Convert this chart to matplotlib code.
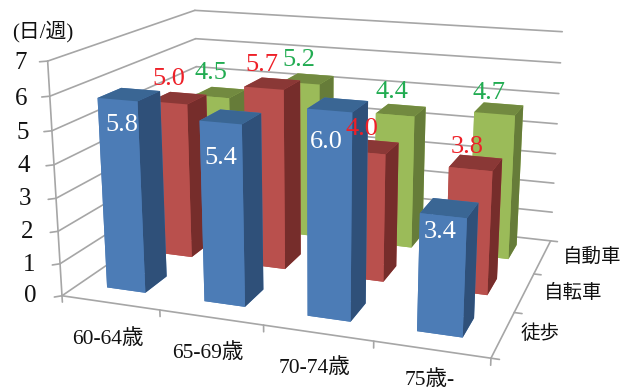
import numpy as np
import matplotlib
matplotlib.use("Agg")
import matplotlib.pyplot as plt

plt.rcParams['font.family'] = ['Liberation Serif', 'Noto Sans CJK JP', 'DejaVu Sans']

# Average days per week by age group and mode of travel
age_groups = ['60-64歳', '65-69歳', '70-74歳', '75歳-']
modes = ['徒歩', '自転車', '自動車']
walk = [5.8, 5.4, 6.0, 3.4]
bicycle = [5.0, 5.7, 4.0, 3.8]
car = [4.5, 5.2, 4.4, 4.7]
series = [walk, bicycle, car]
z_ticks = list(range(8))
unit_label = '(日/週)'

W, H = 633, 392
DPI = 100

# Front / top / side shades for each series
front_cols = ['#4C7CB6', '#B9504D', '#9BBB59']
top_cols = ['#3A6694', '#8A3836', '#728A40']
side_cols = ['#2F5079', '#762D2B', '#667C39']
label_cols = ['#FFFFFF', '#EE2028', '#22AC52']
GRID = '#A6A6A6'

# Camera and screen placement of the 3D box
ELEV, AZIM, ROLL, FOCAL = 15.843, -70.617, -0.063, 0.407
BOX = (1.821, 1.371, 1.0)
SCALE, CX, CY = 3001.33, 321.28, 158.88

# Bar footprint within each category cell
BAR_X, BAR_DX = 0.29, 0.40
BAR_Y, BAR_DY = 0.32, 0.44

fig = plt.figure(figsize=(W / DPI, H / DPI), dpi=DPI)
side = SCALE * 0.185
left = CX - SCALE * 0.095
top = CY - SCALE * 0.09
ax = fig.add_axes([left / W, 1 - (top + side) / H, side / W, side / H],
                  projection='3d', computed_zorder=False)
ax.patch.set_alpha(0)
ax.set_xlim(0, 4, view_margin=0)
ax.set_ylim(0, 3, view_margin=0)
ax.set_zlim(0, 7, view_margin=0)
ax.set_box_aspect(BOX)
ax.view_init(elev=ELEV, azim=AZIM, roll=ROLL)
ax.set_proj_type('persp', focal_length=FOCAL)
ax.set_axis_off()

line = dict(color=GRID, lw=1.2, zorder=1, solid_capstyle='round')

# Gridlines on the back and side walls
for z in z_ticks:
    ax.plot([0, 4], [3, 3], [z, z], **line)
    ax.plot([0, 0], [0, 3], [z, z], **line)

# Axis lines and ticks
ax.plot([0, 0], [0, 0], [0, 7], **line)
ax.plot([0, 4], [0, 0], [0, 0], **line)
ax.plot([4, 4], [0, 3], [0, 0], **line)
for z in z_ticks:
    ax.plot([0, -0.05], [0, -0.05], [z, z], **line)
for x in range(5):
    ax.plot([x, x], [0, 0], [0, -0.2], **line)
for y in range(4):
    ax.plot([4, 4.07], [y, y], [0, 0], **line)

# Bars, painted from the far corner towards the viewer
order = 2
for j in range(2, -1, -1):
    for i in range(4):
        # bar3d face order: bottom, top, front, back, left, right
        cols = [front_cols[j], top_cols[j], front_cols[j], front_cols[j],
                front_cols[j], side_cols[j]]
        ax.bar3d(i + BAR_X, j + BAR_Y, 0, BAR_DX, BAR_DY, series[j][i],
                 color=cols, shade=False, edgecolor='none', zorder=order)
        order += 1


def put(px, py, text, size, color='#111111'):
    fig.text(px / W, 1 - py / H, text, fontsize=size, color=color,
             ha='center', va='center')


# Value labels, one row per series
value_pos = [
    [(122, 125), (221, 158), (326, 142), (440, 232)],
    [(169, 79), (262, 65), (362, 129), (467, 147)],
    [(211, 73), (299, 60), (392, 92), (489, 93)],
]
for j, row in enumerate(value_pos):
    for i, (px, py) in enumerate(row):
        put(px, py, f'{series[j][i]:.1f}', 19, label_cols[j])

# Axis text
z_pos = [(30, 296), (29, 265), (27, 232), (25, 199), (24, 166), (23, 133), (21, 99), (21, 63)]
for z, (px, py) in zip(z_ticks, z_pos):
    put(px, py, str(z), 18)
age_pos = [(108, 339), (208, 353), (315, 368), (430, 380)]
for name, (px, py) in zip(age_groups, age_pos):
    put(px, py, name, 15.5)
mode_pos = [(540, 334), (573, 293), (592, 257)]
for name, (px, py) in zip(modes, mode_pos):
    put(px, py, name, 14)
put(43, 32, unit_label, 15)

fig.savefig('out.png', dpi=DPI)
